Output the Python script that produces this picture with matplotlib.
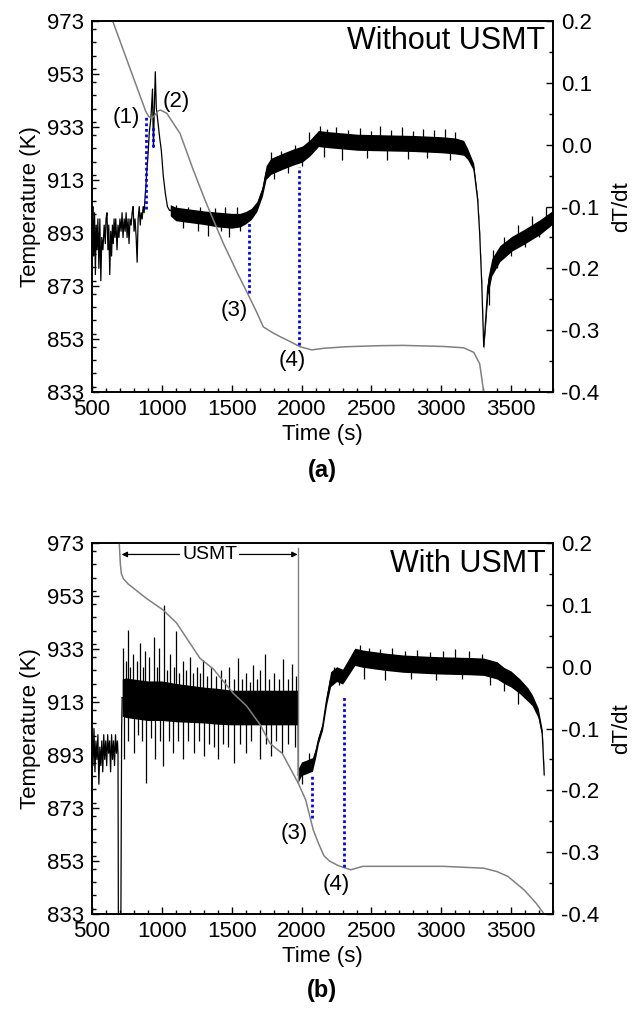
import matplotlib
matplotlib.use("Agg")
import matplotlib.pyplot as plt
from matplotlib.ticker import MultipleLocator
import numpy as np

plt.rcParams['font.family'] = ['Liberation Sans', 'DejaVu Sans']
plt.rcParams['axes.unicode_minus'] = False

# ---------------- Panel (a): Without USMT ----------------
a_T_x = [648, 884, 905, 927, 950, 975, 990, 1035, 1130, 1220, 1309, 1440, 1540, 1619, 1680,
         1726, 1790, 1846, 1920, 1989, 2073, 2156, 2323, 2562, 2727, 3016, 3160, 3232, 3275, 3304]
a_T = [973, 939, 937, 936.3, 937.5, 939.2, 939.4, 938.2, 930.6, 917.5, 905.4, 889.1, 878, 869.6, 863,
       857.6, 855.5, 853.9, 852, 850.1, 848.9, 849.5, 850.1, 850.5, 850.6, 850.2, 849.7, 848, 843.7, 833]

a_pre_x = [500, 506, 512, 518, 524, 530, 536, 542, 549, 556, 563, 570, 578, 587, 595, 600, 607, 614,
           620, 627, 634, 640, 646, 652, 658, 664, 670, 679, 686, 693, 700, 708, 715, 722, 730, 737,
           744, 751, 758, 765, 772, 780, 787, 794, 801, 808, 816, 823, 830, 838, 845, 852, 859, 866,
           873, 881, 885, 890, 900, 910, 920, 926, 933, 937, 940, 945, 953, 960, 970, 985, 996,
           1010, 1025, 1040, 1054, 1060]
a_pre_d = [-0.13, -0.10, -0.18, -0.11, -0.21, -0.13, -0.17, -0.12, -0.20, -0.12, -0.22, -0.15, -0.17,
           -0.13, -0.16, -0.12, -0.11, -0.17, -0.13, -0.21, -0.14, -0.18, -0.13, -0.16, -0.12, -0.15,
           -0.12, -0.17, -0.13, -0.15, -0.12, -0.14, -0.11, -0.15, -0.12, -0.14, -0.11, -0.15, -0.12,
           -0.16, -0.12, -0.13, -0.11, -0.10, -0.14, -0.12, -0.15, -0.19, -0.12, -0.10, -0.13, -0.11,
           -0.12, -0.10, -0.11, -0.08, -0.07, -0.05, -0.02, 0.02, 0.04, 0.06, 0.09, 0.03, -0.004,
           0.05, 0.118, 0.06, 0.04, 0.01, -0.009, -0.05, -0.079, -0.10, -0.106, -0.106]

a_band_x = [1060, 1100, 1200, 1300, 1400, 1500, 1560, 1600, 1640, 1680, 1720, 1746, 1780, 1862,
            1940, 2006, 2060, 2121, 2200, 2400, 2600, 2800, 3000, 3100, 3160, 3189, 3232, 3261,
            3275, 3290, 3304, 3319, 3333, 3362, 3420, 3506, 3593, 3708, 3800]
a_band_c = [-0.106, -0.112, -0.115, -0.118, -0.121, -0.123, -0.122, -0.118, -0.112, -0.100, -0.075,
            -0.045, -0.035, -0.027, -0.020, -0.015, -0.005, 0.010, 0.008, 0.004, 0.003, 0.002, 0.000,
            -0.002, -0.005, -0.015, -0.036, -0.09, -0.144, -0.225, -0.327, -0.279, -0.23, -0.198,
            -0.176, -0.16, -0.149, -0.133, -0.117]
a_band_hw = [0.009, 0.011, 0.011, 0.011, 0.012, 0.012, 0.011, 0.010, 0.009, 0.008, 0.008, 0.011,
             0.013, 0.013, 0.013, 0.013, 0.013, 0.013, 0.013, 0.013, 0.013, 0.013, 0.013, 0.013,
             0.012, 0.009, 0.006, 0.004, 0.004, 0.004, 0.004, 0.009, 0.014, 0.014, 0.013, 0.012,
             0.012, 0.012, 0.011]
a_spk_x = [1100, 1150, 1190, 1260, 1270, 1330, 1380, 1420, 1450, 1480, 1540, 1560,
           1780, 1800, 1850, 1900, 1950, 2000, 2050,
           2130, 2160, 2180, 2250, 2290, 2330, 2420, 2470, 2500, 2560, 2610, 2640, 2720, 2760,
           2800, 2870, 2900, 2950, 3030, 3060, 3100,
           3340, 3370, 3400, 3450, 3500, 3550, 3600, 3650, 3700, 3750]
a_spk_d = [-0.098, -0.135, -0.100, -0.140, -0.100, -0.147, -0.102, -0.140, -0.100, -0.150, -0.100, -0.140,
           -0.012, -0.055, -0.010, -0.045, 0.000, -0.035, 0.020,
           0.030, -0.020, 0.025, 0.028, -0.024, 0.024, 0.027, -0.022, 0.022, 0.030, -0.025, 0.024, 0.028,
           -0.023, 0.022, 0.026, -0.022, 0.024, 0.025, -0.024, 0.020,
           -0.26, -0.17, -0.20, -0.15, -0.18, -0.13, -0.165, -0.115, -0.15, -0.10]

a_blue_x = [884, 934, 1626, 1984]
a_blue_lo = [902.2, 925.6, 870.2, 850.7]
a_blue_hi = [937.5, 933.1, 896.7, 918.0]
a_lbl = ['(1)', '(2)', '(3)', '(4)']
a_lbl_x = [748, 1101, 1516, 1934]
a_lbl_T = [936.5, 942.7, 863.8, 845.0]

# ---------------- Panel (b): With USMT ----------------
b_T_x = [695, 703, 710, 725, 760, 890, 1010, 1106, 1273, 1368, 1511, 1607, 1703, 1774, 1862, 1977,
         2030, 2084, 2121, 2160, 2200, 2266, 2352, 2439, 2727, 3016, 3304, 3400, 3477, 3593, 3679, 3737]
b_T = [973, 965, 961.5, 959.5, 957.5, 952.1, 947.7, 942.8, 929.5, 925.5, 916.3, 911.5, 904.5,
       897.4, 893.6, 882.3, 876, 864.7, 859.7, 855, 853, 851.2, 849.7, 851, 851, 851, 850.3, 849,
       847.2, 842.1, 837.1, 833]

b_pre_x = [500, 507, 514, 521, 528, 535, 542, 549, 556, 563, 570, 577, 584, 591, 598, 605, 612, 619,
           626, 633, 640, 647, 654, 661, 668, 675, 682, 686, 689, 706, 712, 716]
b_pre_d = [-0.11, -0.16, -0.10, -0.17, -0.12, -0.15, -0.11, -0.19, -0.13, -0.16, -0.12, -0.17, -0.11,
           -0.15, -0.12, -0.16, -0.11, -0.14, -0.12, -0.17, -0.11, -0.15, -0.12, -0.16, -0.11, -0.14,
           -0.12, -0.14, -0.45, -0.45, -0.10, -0.05]

b_usmt_x = [716, 740, 800, 900, 1000, 1100, 1200, 1300, 1400, 1500, 1600, 1700, 1800, 1900, 1975]
b_usmt_c = [-0.05, -0.05, -0.052, -0.055, -0.055, -0.058, -0.06, -0.062, -0.064, -0.066, -0.066,
            -0.066, -0.066, -0.066, -0.066]
b_usmt_hw = [0.030, 0.032, 0.032, 0.032, 0.032, 0.031, 0.030, 0.029, 0.029, 0.028, 0.028, 0.028,
             0.028, 0.028, 0.028]
b_usmt_spk_x = [725, 745, 760, 775, 790, 820, 844, 865, 880, 910, 944, 965, 980, 1017, 1040, 1060,
                1085, 1101, 1125, 1150, 1175, 1200, 1225, 1250, 1275, 1297, 1325, 1350, 1385, 1420,
                1450, 1480, 1515, 1547, 1575, 1600, 1630, 1655, 1680, 1700, 1738, 1765, 1800, 1835,
                1869, 1900, 1930, 1960,
                730, 755, 800, 830, 860, 887, 920, 950, 990, 1010, 1050, 1080, 1115, 1150, 1190, 1230,
                1265, 1300, 1340, 1370, 1400, 1440, 1470, 1516, 1560, 1600, 1640, 1700, 1745, 1780,
                1820, 1860, 1900, 1950]
b_usmt_spk_d = [0.03, 0.01, 0.06, 0.0, 0.02, 0.01, 0.038, 0.0, 0.025, 0.015, 0.048, 0.0, 0.03, 0.10,
                -0.005, 0.02, 0.0, 0.057, -0.01, 0.01, -0.005, 0.015, -0.01, 0.0, -0.01, 0.011,
                -0.015, 0.0, -0.015, -0.005, -0.02, 0.0, -0.02, 0.014, -0.02, -0.01, -0.025, 0.003,
                -0.02, -0.005, 0.02, -0.02, -0.01, -0.02, 0.012, -0.02, 0.005, -0.015,
                -0.15, -0.12, -0.14, -0.11, -0.12, -0.188, -0.115, -0.15, -0.12, -0.16, -0.12, -0.14,
                -0.12, -0.15, -0.12, -0.14, -0.12, -0.145, -0.125, -0.13, -0.15, -0.125, -0.13,
                -0.156, -0.125, -0.14, -0.12, -0.15, -0.125, -0.145, -0.12, -0.14, -0.125, -0.13]

b_post_x = [1977, 2000, 2035, 2078, 2100, 2121, 2150, 2179, 2208, 2251, 2294, 2338, 2381, 2439, 2600,
            2727, 2900, 3016, 3200, 3304, 3400, 3448, 3500, 3564, 3620, 3651, 3694, 3723, 3737]
b_post_c = [-0.175, -0.165, -0.162, -0.158, -0.14, -0.118, -0.097, -0.054, -0.02, -0.012, -0.016,
            0.0, 0.016, 0.013, 0.008, 0.005, 0.003, 0.002, 0.001, 0.0, -0.006, -0.014, -0.02,
            -0.032, -0.045, -0.054, -0.075, -0.108, -0.175]
b_post_hw = [0.011, 0.011, 0.011, 0.011, 0.008, 0.006, 0.006, 0.008, 0.012, 0.012, 0.012, 0.013,
             0.014, 0.014, 0.014, 0.014, 0.014, 0.014, 0.014, 0.014, 0.014, 0.013, 0.013, 0.012,
             0.011, 0.009, 0.008, 0.006, 0.004]
b_post_spk_x = [2000, 2050, 2230, 2270, 2420, 2450, 2480, 2560, 2600, 2650, 2740, 2780, 2830, 2920,
                2960, 3010, 3100, 3150, 3200, 3290, 3350, 3450, 3550]
b_post_spk_d = [-0.19, -0.14, 0.0, -0.03, 0.035, -0.02, 0.03, 0.028, -0.022, 0.03, 0.025, -0.02,
                0.027, 0.024, -0.022, 0.026, 0.028, -0.02, 0.025, 0.02, -0.03, -0.04, -0.06]

b_blue_x = [2072, 2306]
b_blue_lo = [869.2, 850.9]
b_blue_hi = [885.5, 915.6]
b_lbl = ['(3)', '(4)']
b_lbl_x = [1948, 2245]
b_lbl_T = [863.5, 844.0]

usmt_start, usmt_end, usmt_T = 712, 1972, 968.7
usmt_line_top, usmt_line_bottom = 971.0, 882.3

x_ticks = [500, 1000, 1500, 2000, 2500, 3000, 3500]
T_ticks = [833, 853, 873, 893, 913, 933, 953, 973]
d_ticks = [-0.4, -0.3, -0.2, -0.1, 0.0, 0.1, 0.2]
d_ticklabels = ['-0.4', '-0.3', '-0.2', '-0.1', '0.0', '0.1', '0.2']

FS = 16
GRAY = '#808080'

fig = plt.figure(figsize=(6.32, 10.13), dpi=100)


def setup(ax, axr):
    ax.set_xlim(500, 3800)
    ax.set_ylim(833, 973)
    axr.set_ylim(-0.4, 0.2)
    ax.set_xticks(x_ticks)
    ax.set_yticks(T_ticks)
    axr.set_yticks(d_ticks)
    axr.set_yticklabels(d_ticklabels)
    ax.xaxis.set_minor_locator(MultipleLocator(100))
    ax.yaxis.set_minor_locator(MultipleLocator(5))
    axr.yaxis.set_minor_locator(MultipleLocator(0.05))
    for a in (ax, axr):
        a.tick_params(which='major', direction='in', length=5, width=1, labelsize=FS, pad=6)
        a.tick_params(which='minor', direction='in', length=3, width=1)
        for s in a.spines.values():
            s.set_linewidth(1.2)
    ax.tick_params(axis='x', which='both', top=False, pad=5)
    ax.tick_params(axis='y', which='both', right=False)
    axr.tick_params(axis='y', which='both', left=False, right=True)
    ax.set_xlabel('Time (s)', fontsize=FS, labelpad=3)
    ax.set_ylabel('Temperature (K)', fontsize=FS, labelpad=4)
    axr.set_ylabel('dT/dt', fontsize=FS, labelpad=8)
    ax.set_zorder(2)
    ax.patch.set_visible(False)


def band(axr, x, c, hw):
    c = np.array(c)
    hw = np.array(hw)
    axr.fill_between(x, c - hw, c + hw, color='black', lw=0)
    axr.plot(x, c, color='black', lw=0.9)


def spikes(axr, bx, bc, sx, sd):
    base = np.interp(sx, bx, bc)
    axr.vlines(sx, base, sd, color='black', lw=0.9)


# Panel (a)
ax1 = fig.add_axes([0.1456, 0.6130, 0.7294, 0.3662])
ax1r = ax1.twinx()
setup(ax1, ax1r)
ax1r.plot(a_pre_x, a_pre_d, color='black', lw=0.9)
band(ax1r, a_band_x, a_band_c, a_band_hw)
spikes(ax1r, a_band_x, a_band_c, a_spk_x, a_spk_d)
ax1.plot(a_T_x, a_T, color=GRAY, lw=1.1)
ax1.vlines(a_blue_x, a_blue_lo, a_blue_hi, colors='blue', linestyles=(0, (1, 1)), lw=2)
for t, x, y in zip(a_lbl, a_lbl_x, a_lbl_T):
    ax1.text(x, y, t, fontsize=FS, ha='center', va='center')
ax1.text(3745, 965.5, 'Without USMT', fontsize=22, ha='right', va='center')
fig.text(0.5096, 1 - 470 / 1013, '(a)', fontsize=17, fontweight='bold', ha='center', va='center')

# Panel (b)
ax2 = fig.add_axes([0.1456, 0.0977, 0.7294, 0.3662])
ax2r = ax2.twinx()
setup(ax2, ax2r)
ax2r.plot(b_pre_x, b_pre_d, color='black', lw=0.9)
band(ax2r, b_usmt_x, b_usmt_c, b_usmt_hw)
spikes(ax2r, b_usmt_x, b_usmt_c, b_usmt_spk_x, b_usmt_spk_d)
ax2r.plot([b_usmt_x[-1], b_post_x[0]], [b_usmt_c[-1], b_post_c[0]], color='black', lw=0.9)
band(ax2r, b_post_x, b_post_c, b_post_hw)
spikes(ax2r, b_post_x, b_post_c, b_post_spk_x, b_post_spk_d)
ax2.plot(b_T_x, b_T, color=GRAY, lw=1.1)
ax2.plot([b_T_x[15], b_T_x[15]], [usmt_line_bottom, usmt_line_top], color=GRAY, lw=1.0)
ax2.annotate('', xy=(usmt_start, usmt_T), xytext=(usmt_end, usmt_T),
             arrowprops=dict(arrowstyle='<|-|>', color='black', lw=0.9,
                             mutation_scale=8, shrinkA=0, shrinkB=0))
ax2.text((usmt_start + usmt_end) / 2, usmt_T, 'USMT', fontsize=14, ha='center', va='center',
         bbox=dict(facecolor='white', edgecolor='none', pad=1.5))
ax2.vlines(b_blue_x, b_blue_lo, b_blue_hi, colors='blue', linestyles=(0, (1, 1)), lw=2)
for t, x, y in zip(b_lbl, b_lbl_x, b_lbl_T):
    ax2.text(x, y, t, fontsize=FS, ha='center', va='center')
ax2.text(3745, 965.2, 'With USMT', fontsize=22, ha='right', va='center')
fig.text(0.5096, 1 - 990 / 1013, '(b)', fontsize=17, fontweight='bold', ha='center', va='center')

fig.savefig('out.png', dpi=100)
